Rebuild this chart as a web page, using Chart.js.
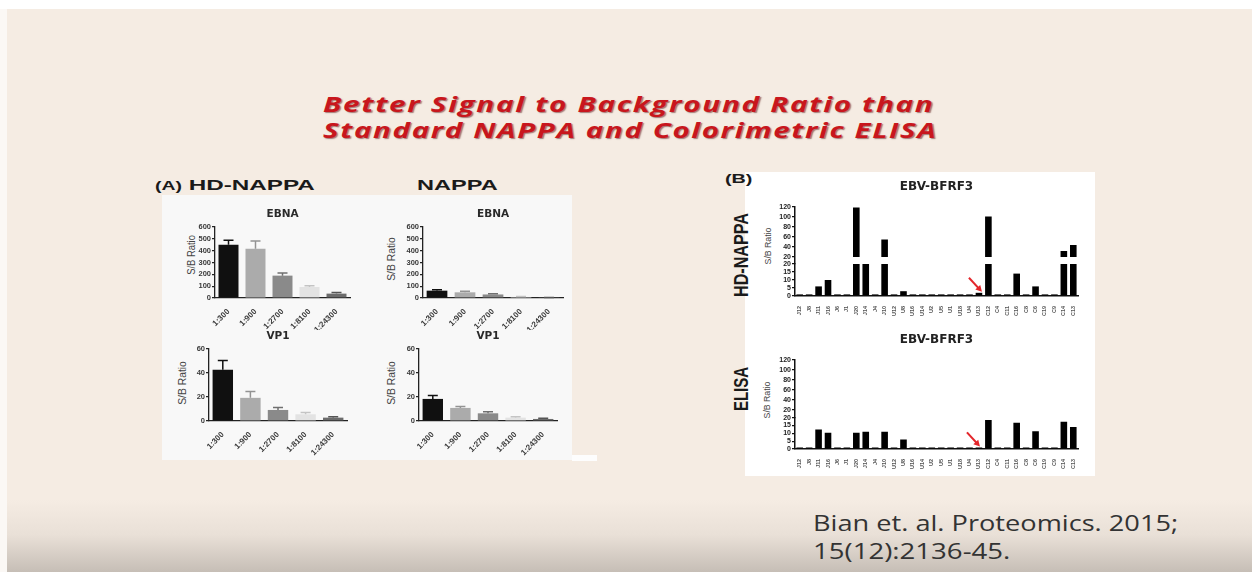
<!DOCTYPE html>
<html>
<head>
<meta charset="utf-8">
<script src="https://cdn.jsdelivr.net/npm/chart.js@4.4.0/dist/chart.umd.min.js"></script>
<style>
html, body { margin: 0; padding: 0; }
body {
  width: 1252px; height: 572px; overflow: hidden; position: relative;
  background: linear-gradient(to bottom, #ffffff 0px, #ffffff 9px, #f5ece3 9px, #f5ece3 500px, #e9e0d7 535px, #c6beb6 572px);
}
.strip { position: absolute; left: 0; top: 9px; width: 7px; height: 563px; background: #fbf8f5; }
.box { position: absolute; }
.txt { position: absolute; white-space: nowrap; transform-origin: left top; }
.rot { position: absolute; white-space: nowrap; }
canvas { position: absolute; }
.title { font-family: 'Open Sans', sans-serif; font-weight: bold; font-style: italic; font-size: 22px; line-height: 22px;
  letter-spacing: 1.2px; color: #c8161d; text-shadow: 1px 1px 1px rgba(80, 0, 0, 0.5); }
.head { font-family: 'Liberation Sans', Arial, sans-serif; font-weight: bold; color: #1a1a1a; line-height: 14px; }
.cite { font-family: 'Open Sans', sans-serif; font-size: 21px; line-height: 21px; color: #333; }
.axt { font-family: 'Liberation Sans', Arial, sans-serif; font-size: 8px; color: #444; }
</style>
</head>
<body>
<div class="strip"></div>
<div class="box" style="left:162px;top:195px;width:410px;height:265px;background:#f8f8f8"></div>
<div class="box" style="left:572px;top:455px;width:25px;height:6px;background:#fdfdfd"></div>
<div class="box" style="left:745px;top:172px;width:350px;height:304px;background:#ffffff"></div>

<span class="txt title" data-w="612" style="left:323px;top:92px">Better Signal to Background Ratio than</span>
<span class="txt title" data-w="614" style="left:323px;top:118px">Standard NAPPA and Colorimetric ELISA</span>

<span class="txt head" data-w="160" style="left:155px;top:178px;font-size:15px"><span style="font-size:12px">(A)</span> HD-NAPPA</span>
<span class="txt head" data-w="80" style="left:417px;top:178px;font-size:15px">NAPPA</span>
<span class="txt head" data-w="28" style="left:725px;top:172px;font-size:12px">(B)</span>

<span class="rot head" data-len="84" data-th="1.4" data-cx="741" data-cy="255" style="font-size:15px">HD-NAPPA</span>
<span class="rot head" data-len="44" data-th="1.4" data-cx="741" data-cy="389" style="font-size:15px">ELISA</span>

<span class="rot axt" data-len="40" data-th="1.3" data-cx="192" data-cy="255">S/B Ratio</span>
<span class="rot axt" data-len="44" data-th="1.3" data-cx="392" data-cy="259">S/B Ratio</span>
<span class="rot axt" data-len="44" data-th="1.3" data-cx="183" data-cy="383">S/B Ratio</span>
<span class="rot axt" data-len="44" data-th="1.3" data-cx="392" data-cy="383">S/B Ratio</span>
<span class="rot axt" data-len="37" data-th="1.2" data-cx="768" data-cy="246">S/B Ratio</span>
<span class="rot axt" data-len="37" data-th="1.2" data-cx="767" data-cy="400">S/B Ratio</span>

<span class="txt cite" data-w="365" style="left:813px;top:513px">Bian et. al. Proteomics. 2015;</span>
<span class="txt cite" data-w="197" style="left:813px;top:541px">15(12):2136-45.</span>

<canvas id="a1" width="190" height="130" style="left:168px;top:200px"></canvas>
<canvas id="a2" width="190" height="130" style="left:380px;top:200px"></canvas>
<canvas id="a3" width="190" height="136" style="left:165px;top:322px"></canvas>
<canvas id="a4" width="190" height="136" style="left:376px;top:322px"></canvas>
<canvas id="b1" width="345" height="150" style="left:745px;top:176px"></canvas>
<canvas id="b2" width="345" height="150" style="left:745px;top:329px"></canvas>

<script>
// ---- data ----
const dilutions = ['1:300', '1:900', '1:2700', '1:8100', '1:24300'];

const hdEbna = [451, 417, 189, 93, 37];
const hdEbnaErr = [36, 65, 22, 11, 9];
const nappaEbna = [62, 48, 30, 9, 3];
const nappaEbnaErr = [8, 8, 6, 4, 2];

const hdVp1 = [42.7, 19.3, 9.2, 5.6, 2.8];
const hdVp1Err = [7.8, 5.3, 2, 1.4, 0.8];
const nappaVp1 = [18.4, 10.9, 6.4, 2.8, 1.7];
const nappaVp1Err = [2.8, 1.1, 1.4, 0.8, 0.5];

const ebnaTicks = [0, 100, 200, 300, 400, 500, 600];
const vp1Ticks = [0, 20, 40, 60];

const bfrfLabels = ['J12', 'J8', 'J11', 'J16', 'J6', 'J1', 'J20', 'J14', 'J4', 'J10',
  'U12', 'U8', 'U16', 'U14', 'U2', 'U5', 'U1', 'U18', 'U4', 'U13',
  'C12', 'C4', 'C11', 'C16', 'C8', 'C6', 'C19', 'C9', 'C14', 'C13'];
const hdNappaBfrf = [1, 1, 6, 10, 1, 1, 119, 20, 1, 55, 1, 3, 1, 1, 1, 1, 1, 1, 1, 2,
  101, 1, 1, 14, 1, 6, 1, 1, 32, 44];
const elisaBfrf = [1, 1, 12.5, 10.3, 1, 1, 10.3, 11, 1, 11, 1, 6, 1, 1, 1, 1, 1, 1, 1, 1,
  18.5, 1, 1, 16.8, 1, 11.4, 1, 1, 17.4, 14];
const lowTicks = [0, 5, 10, 15, 20];
const highTicks = [20, 40, 60, 80, 100, 120];
const breakAt = 20;
const arrowIndex = 19;

const barColors = ['#101010', '#ababab', '#8a8a8a', '#e3e3e3', '#6c6c6c'];
const errColors = ['#101010', '#939393', '#707070', '#c4c4c4', '#555555'];

Chart.defaults.font.family = "'DejaVu Sans', sans-serif";
Chart.defaults.animation = false;
Chart.defaults.plugins.legend.display = false;
Chart.defaults.plugins.tooltip.enabled = false;

const tickFamily = "'Liberation Sans', Arial, sans-serif";

// error bars (upper whisker only)
Chart.register({
  id: 'errorBars',
  afterDatasetsDraw(chart, args, opts) {
    if (!opts.errs) return;
    const ctx = chart.ctx;
    const ys = chart.scales.y;
    const vals = chart.data.datasets[0].data;
    ctx.save();
    ctx.lineWidth = 1.5;
    chart.getDatasetMeta(0).data.forEach((bar, i) => {
      const top = ys.getPixelForValue(vals[i] + opts.errs[i]);
      ctx.strokeStyle = errColors[i];
      ctx.beginPath();
      ctx.moveTo(bar.x, bar.y);
      ctx.lineTo(bar.x, top);
      ctx.moveTo(bar.x - 5, top);
      ctx.lineTo(bar.x + 5, top);
      ctx.stroke();
    });
    ctx.restore();
  }
});

// red arrow pointing at one bar
Chart.register({
  id: 'pointer',
  afterDatasetsDraw(chart, args, opts) {
    if (opts.index === undefined) return;
    const bar = chart.getDatasetMeta(0).data[opts.index];
    const tx = bar.x + opts.dx, ty = bar.y + opts.dy;
    const fx = tx - 13, fy = ty - 14;
    const ctx = chart.ctx;
    const ang = Math.atan2(ty - fy, tx - fx);
    ctx.save();
    ctx.strokeStyle = '#e3262b';
    ctx.fillStyle = '#e3262b';
    ctx.lineWidth = 2;
    ctx.beginPath();
    ctx.moveTo(fx, fy);
    ctx.lineTo(tx - 4 * Math.cos(ang), ty - 4 * Math.sin(ang));
    ctx.stroke();
    ctx.beginPath();
    ctx.moveTo(tx, ty);
    ctx.lineTo(tx - 7 * Math.cos(ang - 0.5), ty - 7 * Math.sin(ang - 0.5));
    ctx.lineTo(tx - 7 * Math.cos(ang + 0.5), ty - 7 * Math.sin(ang + 0.5));
    ctx.closePath();
    ctx.fill();
    ctx.restore();
  }
});

function dilutionChart(id, title, values, errs, ticks, yw, xh, padR) {
  const max = ticks[ticks.length - 1];
  new Chart(document.getElementById(id), {
    type: 'bar',
    data: {
      labels: dilutions,
      datasets: [{ data: values, backgroundColor: barColors, barPercentage: 0.74, categoryPercentage: 1 }]
    },
    options: {
      responsive: false,
      layout: { padding: { right: padR } },
      plugins: {
        title: { display: true, text: title, fullSize: false, color: '#2a2a2a',
          font: { size: 10.5, weight: 'bold' }, padding: { top: 8, bottom: 6.4 } },
        errorBars: { errs: errs }
      },
      scales: {
        x: {
          offset: true,
          grid: { display: false },
          border: { color: '#222', width: 1.3 },
          ticks: { font: { family: tickFamily, size: 8, weight: 'bold' }, color: '#3a3a3a', minRotation: 45, maxRotation: 45,
            autoSkip: false, padding: 1 },
          afterFit(s) { s.height = xh; }
        },
        y: {
          min: 0, max: max,
          afterBuildTicks(s) { s.ticks = ticks.map(v => ({ value: v })); },
          grid: { drawOnChartArea: false, tickLength: 3, color: '#222', lineWidth: 1.2 },
          border: { color: '#222', width: 1.3 },
          ticks: { font: { family: tickFamily, size: 7.5, weight: 'bold' }, color: '#3a3a3a', padding: 1, autoSkip: false },
          afterFit(s) { s.width = yw; }
        }
      }
    }
  });
}

dilutionChart('a1', 'EBNA', hdEbna, hdEbnaErr, ebnaTicks, 47, 32, 8);
dilutionChart('a2', 'EBNA', nappaEbna, nappaEbnaErr, ebnaTicks, 43, 32, 7);
dilutionChart('a3', 'VP1', hdVp1, hdVp1Err, vp1Ticks, 44, 37, 8);
dilutionChart('a4', 'VP1', nappaVp1, nappaVp1Err, vp1Ticks, 43, 37, 9);

function brokenChart(id, values, highMin, wHigh, wLow, arrowDx, arrowDy) {
  const tickFont = { family: tickFamily, size: 7, weight: 'bold' };
  new Chart(document.getElementById(id), {
    type: 'bar',
    data: {
      labels: bfrfLabels,
      datasets: [
        { data: values.map(v => Math.min(v, breakAt)), yAxisID: 'yLow', backgroundColor: '#000' },
        { data: values.map(v => v > breakAt ? [breakAt, v] : null), yAxisID: 'yHigh', backgroundColor: '#000' }
      ]
    },
    options: {
      responsive: false,
      layout: { padding: { right: 12 } },
      datasets: { bar: { grouped: false, barPercentage: 0.7, categoryPercentage: 1 } },
      plugins: {
        title: { display: true, text: 'EBV-BFRF3', fullSize: false, color: '#222',
          font: { size: 12, weight: 'bold' }, padding: { top: 4, bottom: 12.6 } },
        pointer: { index: arrowIndex, dx: arrowDx, dy: arrowDy }
      },
      scales: {
        x: {
          offset: true,
          grid: { display: false },
          border: { color: '#111', width: 1.5 },
          ticks: { font: { family: tickFamily, size: 5.5, weight: 'bold' }, color: '#555', minRotation: 90, maxRotation: 90,
            autoSkip: false, padding: 2 },
          afterFit(s) { s.height = 30; }
        },
        yLow: {
          position: 'left', stack: 'brk', stackWeight: wLow,
          min: 0, max: breakAt,
          afterBuildTicks(s) { s.ticks = lowTicks.map(v => ({ value: v })); },
          grid: { drawOnChartArea: false, tickLength: 3, color: '#111', lineWidth: 1.2 },
          border: { color: '#111', width: 1.5 },
          ticks: { font: tickFont, color: '#222', padding: 1, autoSkip: false },
          afterFit(s) { s.width = 50; }
        },
        yHigh: {
          position: 'left', stack: 'brk', stackWeight: wHigh,
          min: highMin, max: 120,
          afterBuildTicks(s) { s.ticks = highTicks.map(v => ({ value: v })); },
          grid: { drawOnChartArea: false, tickLength: 3, color: '#111', lineWidth: 1.2 },
          border: { color: '#111', width: 1.5 },
          ticks: { font: tickFont, color: '#222', padding: 1, autoSkip: false },
          afterFit(s) { s.width = 50; }
        }
      }
    }
  });
}

brokenChart('b1', hdNappaBfrf, 6, 57, 32, 3, -1);
brokenChart('b2', elisaBfrf, 4, 57, 31, 1, -1);

// stretch slide text to the widths seen in the picture
document.querySelectorAll('.txt').forEach(el => {
  const k = +el.dataset.w / el.offsetWidth;
  el.style.transform = 'scaleX(' + k.toFixed(3) + ')';
});
document.querySelectorAll('.rot').forEach(el => {
  const k = +el.dataset.len / el.offsetWidth;
  el.style.left = el.dataset.cx + 'px';
  el.style.top = el.dataset.cy + 'px';
  el.style.transform = 'translate(-50%,-50%) rotate(-90deg) scale(' + k.toFixed(3) + ',' + el.dataset.th + ')';
});
</script>
</body>
</html>
